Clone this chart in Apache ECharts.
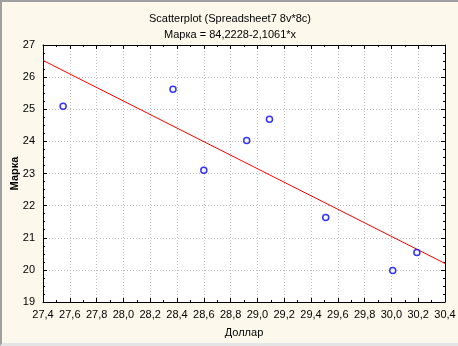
<!DOCTYPE html>
<html><head><meta charset="utf-8">
<script src="https://cdn.jsdelivr.net/npm/echarts@6/dist/echarts.min.js"></script>
<style>
html,body{margin:0;padding:0;background:#fdf8ec;}
#c{width:458px;height:346px;box-sizing:border-box;border-left:2px solid #a0a0a0;border-top:2px solid #a0a0a0;border-bottom:3px solid #e4e4e4;}
</style></head>
<body><div id="c"></div>
<script>
const titleText = "Scatterplot (Spreadsheet7 8v*8c)";
const subtitleText = "Марка = 84,2228-2,1061*x";
const xName = "Доллар";
const yName = "Марка";
const xValues = [27.55, 28.37, 28.60, 28.92, 29.09, 29.51, 30.01, 30.19];
const yValues = [25.09, 25.62, 23.10, 24.03, 24.69, 21.63, 19.98, 20.54];
const fitX = [27.4, 30.4];
const fitY = [26.52, 20.20];

const chart = echarts.init(document.getElementById('c'), null, {renderer:'canvas'});
const fmt = v => v.toFixed(1).replace('.', ',');
const txt = {color:'#000', fontFamily:'Liberation Sans, Arial, sans-serif', fontSize:11};
const axisCommon = {
  axisLine:{show:true, onZero:false, lineStyle:{color:'#000', width:1}},
  axisTick:{show:true, inside:true, length:4, lineStyle:{color:'#000'}},
};
chart.setOption({
  backgroundColor:'transparent',
  animation:false,
  title:[
    {text:titleText, left:'center', top:6, textStyle:Object.assign({}, txt, {fontWeight:'normal'})},
    {text:subtitleText, left:'center', top:22, textStyle:Object.assign({}, txt, {fontWeight:'normal'})}
  ],
  grid:{left:41, right:13, top:43, bottom:41, show:true, backgroundColor:'#fff', borderWidth:0,
        containLabel:false, outerBoundsMode:'none'},
  xAxis:[
    Object.assign({type:'value', min:27.4, max:30.4, interval:0.2, position:'bottom',
      name:xName, nameLocation:'middle', nameGap:25, nameMoveOverlap:false, nameTextStyle:txt,
      axisLabel:Object.assign({formatter:fmt, margin:7}, txt),
      splitLine:{show:true, lineStyle:{color:'#bdbdbd', type:[1,2], width:1}},
    }, axisCommon, {minorTick:{show:true, splitNumber:2, length:2, lineStyle:{color:'#000'}}}),
    Object.assign({type:'value', min:27.4, max:30.4, interval:0.2, position:'top',
      axisLabel:{show:false}, splitLine:{show:false}}, axisCommon,
      {minorTick:{show:true, splitNumber:2, length:2, lineStyle:{color:'#000'}}})
  ],
  yAxis:[
    Object.assign({type:'value', min:19, max:27, interval:1, position:'left',
      name:yName, nameLocation:'middle', nameGap:23, nameMoveOverlap:false,
      nameTextStyle:Object.assign({}, txt, {fontWeight:'bold'}),
      axisLabel:Object.assign({margin:8}, txt),
      splitLine:{show:true, lineStyle:{color:'#bdbdbd', type:[1,2], width:1}},
    }, axisCommon, {minorTick:{show:true, splitNumber:4, length:2, lineStyle:{color:'#000'}}}),
    Object.assign({type:'value', min:19, max:27, interval:1, position:'right',
      axisLabel:{show:false}, splitLine:{show:false}}, axisCommon,
      {minorTick:{show:true, splitNumber:4, length:2, lineStyle:{color:'#000'}}})
  ],
  series:[
    {type:'line', data:fitX.map((x,i)=>[x, fitY[i]]), showSymbol:false, symbol:'none',
     lineStyle:{color:'#ff0000', width:1}, silent:true, z:2},
    {type:'scatter', data:xValues.map((x,i)=>[x, yValues[i]]), symbol:'circle', symbolSize:6,
     itemStyle:{color:'#fff', borderColor:'#0000ff', borderWidth:1.5}, z:3}
  ]
});
</script></body></html>
